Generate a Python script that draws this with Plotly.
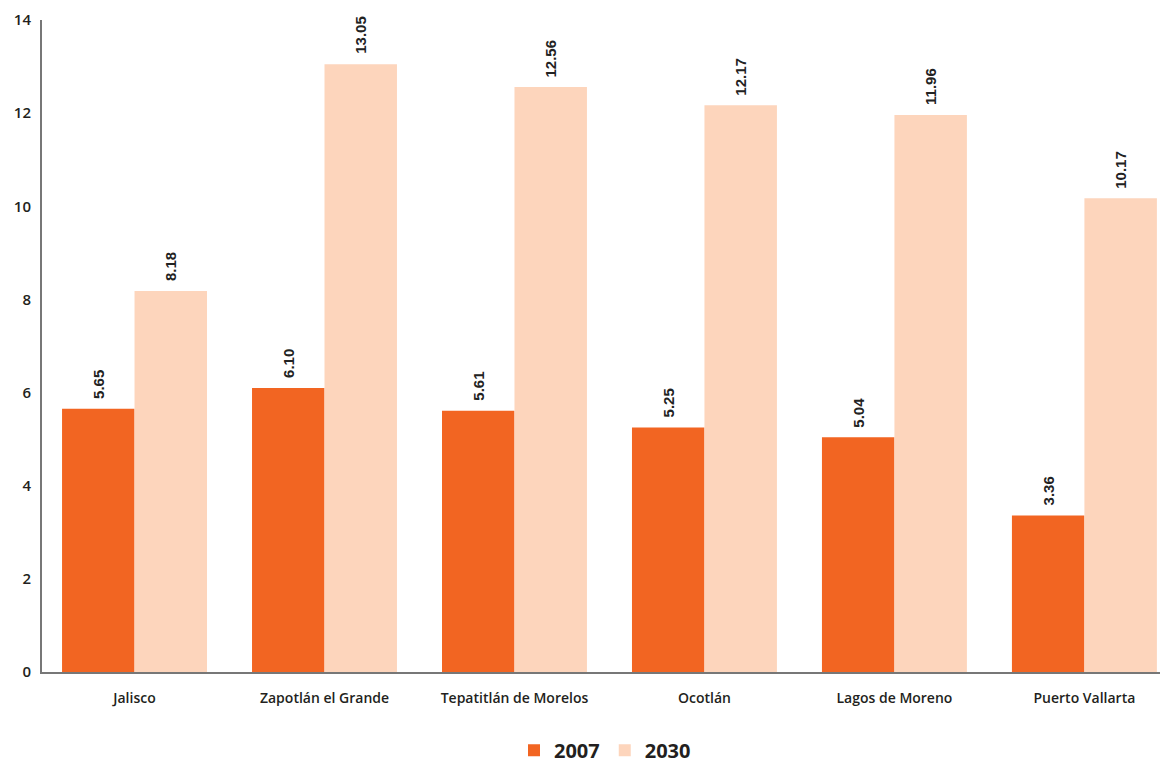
import plotly.graph_objects as go

# municipios y valores por año
municipios = ['Jalisco', 'Zapotlán el Grande', 'Tepatitlán de Morelos',
              'Ocotlán', 'Lagos de Moreno', 'Puerto Vallarta']
valores_2007 = [5.65, 6.10, 5.61, 5.25, 5.04, 3.36]
valores_2030 = [8.18, 13.05, 12.56, 12.17, 11.96, 10.17]

color_2007 = '#F26522'
color_2030 = '#FDD5BC'

fig = go.Figure()

fig.add_trace(go.Bar(x=municipios, y=valores_2007, name='2007',
                     marker=dict(color=color_2007, line=dict(width=0))))
fig.add_trace(go.Bar(x=municipios, y=valores_2030, name='2030',
                     marker=dict(color=color_2030, line=dict(width=0))))

# etiquetas de valor (rotadas) sobre cada barra
for serie, desplaz in [(valores_2007, -36), (valores_2030, 36)]:
    for m, v in zip(municipios, serie):
        fig.add_annotation(x=m, y=v, text=f'{v:.2f}', textangle=-90,
                           showarrow=False, xanchor='center', yanchor='bottom',
                           xshift=desplaz, yshift=8,
                           font=dict(family='Liberation Sans', size=15,
                                     color='#222', weight='bold'))

fig.update_layout(
    width=1160, height=756,
    barmode='group', bargap=0.237, bargroupgap=0,
    plot_bgcolor='white', paper_bgcolor='white',
    margin=dict(l=34, r=0, t=12, b=92, autoexpand=False),
    font=dict(family='Open Sans', size=14, color='#231F20'),
    showlegend=True,
    legend=dict(orientation='h', x=0.5, xanchor='center', y=-0.12, yanchor='middle',
                font=dict(size=20, color='#231F20', family='Open Sans', weight='bold'),
                itemwidth=30, traceorder='normal'),
)

fig.update_xaxes(range=[-0.487, 5.44], showline=True, linecolor='#777777', linewidth=2,
                 ticks='', showgrid=False, automargin=False, ticklabelstandoff=12,
                 tickfont=dict(family='Open Sans', size=14, color='#231F20', weight=600))
fig.update_yaxes(range=[0, 14], dtick=2, showline=True, linecolor='#777777', linewidth=2,
                 ticks='', showgrid=False, zeroline=False, ticklabelstandoff=6,
                 automargin=False,
                 tickfont=dict(family='Open Sans', size=15, color='#231F20', weight=600))

fig.write_html("out.html")
